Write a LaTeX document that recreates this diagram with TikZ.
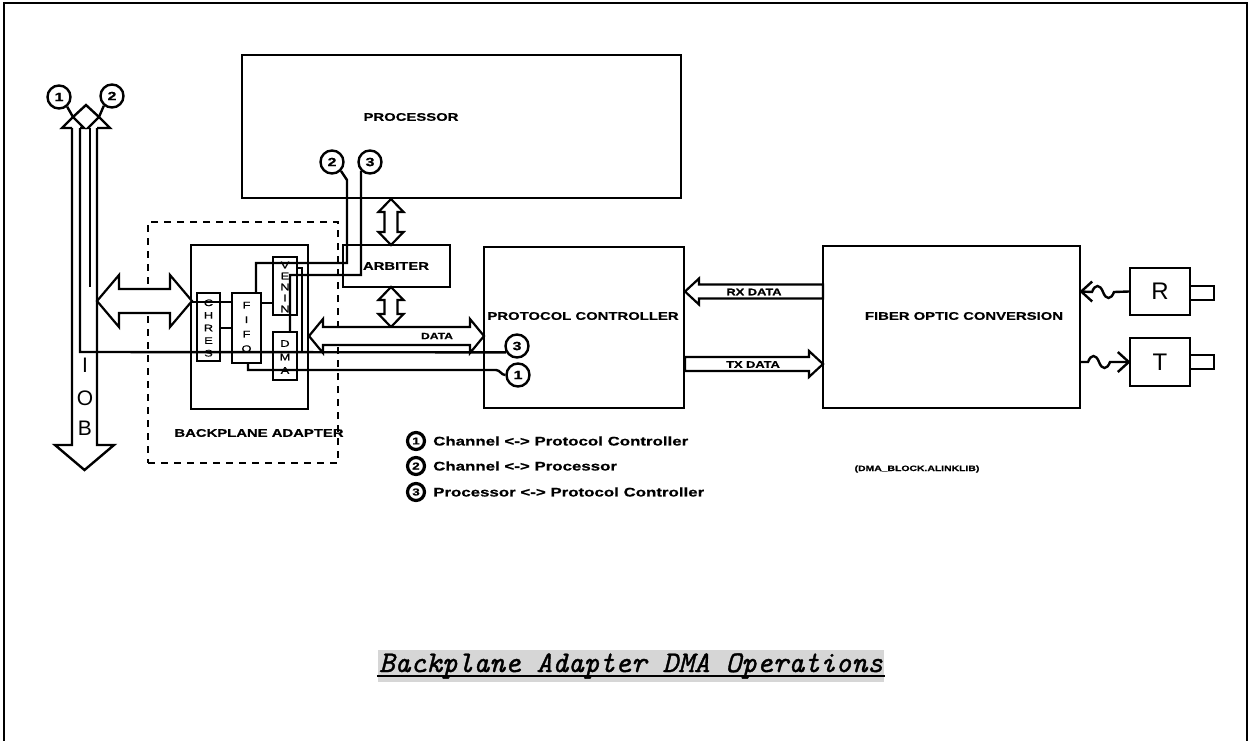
\documentclass[tikz,border=0pt]{standalone}
\usepackage{fontspec}
\newfontfamily\labfont[FakeStretch=1.35,FakeBold=0.6]{Liberation Sans}
\newfontfamily\plainsans{Liberation Sans}
\newfontfamily\titlefont[FakeBold=1.2]{lmmono10-italic.otf}
\begin{document}
\begin{tikzpicture}[x=1pt,y=-1pt,line width=2.4pt,line join=miter,
  box/.style={draw,line width=2.4pt,inner sep=0pt},
  dbox/.style={draw,line width=2.4pt,dash pattern=on 7pt off 6pt,inner sep=0pt},
  lbl/.style={inner sep=0pt,font=\labfont\bfseries\fontsize{11}{13}\selectfont},
  sml/.style={inner sep=0pt,font=\labfont\bfseries\fontsize{9.5}{11}\selectfont},
  leg/.style={inner sep=0pt,anchor=west,font=\labfont\bfseries\fontsize{12.5}{14}\selectfont},
  vlet/.style={inner sep=0pt,align=center,font=\labfont\fontsize{9.5}{#1}\selectfont},
  num/.style={circle,draw,line width=2.4pt,minimum size=23pt,inner sep=0pt,font=\labfont\bfseries\fontsize{12}{12}\selectfont},
  lnum/.style={circle,draw,line width=3.2pt,minimum size=17pt,inner sep=0pt,font=\labfont\bfseries\fontsize{10}{10}\selectfont},
  arr/.style={draw,fill=white,line width=2.2pt},
  wire/.style={line width=2.4pt},
  big/.style={inner sep=0pt,font=\plainsans\fontsize{24}{24}\selectfont}]
\useasboundingbox (0,0) rectangle (1251,740);
\draw[line width=1.6pt] (4,745)--(4,3)--(1247,3)--(1247,745);

% ---------------- main blocks
\node[box,minimum width=439pt,minimum height=143pt] (proc) at (461.5,126.5) {};
\node[lbl] (proct) at (411,117) {PROCESSOR};
\node[box,minimum width=107pt,minimum height=42pt] (arb) at (396.5,266) {};
\node[lbl] (arbt) at (396,266) {ARBITER};
\node[box,minimum width=200pt,minimum height=161pt] (pc) at (584,327.5) {};
\node[lbl,fill=white,inner xsep=1pt] (pct) at (583,316) {PROTOCOL CONTROLLER};
\node[box,minimum width=257pt,minimum height=162pt] (fo) at (951.5,327) {};
\node[lbl] (fot) at (964,316) {FIBER OPTIC CONVERSION};

% R and T
\node[box,minimum width=60pt,minimum height=47pt,big] (rbox) at (1160,291.5) {R};
\node[box,minimum width=24pt,minimum height=14pt] (rcon) at (1202,293) {};
\node[box,minimum width=60pt,minimum height=48pt,big] (tbox) at (1160,362) {T};
\node[box,minimum width=24pt,minimum height=14pt] (tcon) at (1202,362) {};
\coordinate (rin) at (fo.east |- rbox.west);
\coordinate (tout) at (fo.east |- tbox.west);
\draw[wire] (rbox.west) -- (1114,292) .. controls (1111,300) and (1106,300) .. (1103,292) .. controls (1100,284) and (1095,284) .. (1092,292) -- (rin);
\draw[wire] (rin) ++(11,-10) -- (rin) -- ++(11,10);
\draw[wire] (tout) -- (1088,362) .. controls (1091,354) and (1096,354) .. (1099,362) .. controls (1102,370) and (1107,370) .. (1110,362) -- (tbox.west);
\draw[wire] (tbox.west) ++(-11,-10) -- (tbox.west) -- ++(-11,10);

% RX / TX data arrows
\draw[arr] (685,291.5)--(699,278.5)--(699,284.5)--(823,284.5)--(823,298.5)--(699,298.5)--(699,304.5)--cycle;
\node[sml] (rxt) at (754,292) {RX DATA};
\draw[arr] (823,364)--(809,351)--(809,357)--(685,357)--(685,371)--(809,371)--(809,377)--cycle;
\node[sml] (txt) at (753,364.5) {TX DATA};

% ---------------- backplane adapter
\node[dbox,minimum width=190pt,minimum height=241pt] (bpd) at (243,342.5) {};
\node[lbl] (bpt) at (259,433) {BACKPLANE ADAPTER};
\node[box,minimum width=117pt,minimum height=164pt] (bpa) at (249.5,327) {};
\node[box,minimum width=23pt,minimum height=68pt] (chres) at (208.5,327) {};
\node[vlet=12.6] at (208.5,328) {C\\H\\R\\E\\S};
\node[box,minimum width=29pt,minimum height=70pt] (fifo) at (246.5,328) {};
\node[vlet=14.5] at (246.5,327) {F\\I\\F\\O};
\node[box,minimum width=24pt,minimum height=58pt] (venin) at (285,286) {};
\node[vlet=11] at (285,287) {V\\E\\N\\I\\N};
\node[box,minimum width=24pt,minimum height=48pt] (dma) at (285,356) {};
\node[vlet=13.5] at (285,357) {D\\M\\A};

% internal wires
\draw[wire] (192,302) -- (fifo.west |- 0,302);
\draw[wire] (chres.east |- 0,328) -- (fifo.west |- 0,328);
\draw[wire] (fifo.east |- 0,303) -- (venin.west |- 0,303);
\draw[wire] (venin.east |- 0,268) -- (302,268) -- (302,352);

% ---------------- IOB bus
\draw[wire] (72,128) -- (72,445) -- (55,445) -- (84.5,470) -- (114,445) -- (97,445) -- (97,128);
\draw[wire] (90,128) -- (90,287);
\node[num] (c1) at (59,97) {1};
\node[num] (c2) at (112,96) {2};
\draw[wire] (c1.-50) -- (73,117);
\draw[wire] (c2.-130) -- (99,117);
\draw[wire] (72,128)--(62,128)--(73,117)--(84,128)--(80,128);
\draw[wire] (90,128)--(88,128)--(99,117)--(110,128)--(97,128);
\draw[wire] (73,117)--(86,105)--(99,117);
\node[big,font=\plainsans\fontsize{21}{21}\selectfont] (iobI) at (85,365) {I};
\node[big,font=\plainsans\fontsize{21}{21}\selectfont] (iobO) at (85,398) {O};
\node[big,font=\plainsans\fontsize{21}{21}\selectfont] (iobB) at (85,428) {B};

% IOB <-> CHRES double arrow
\draw[arr] (97,301)--(119,275)--(119,289)--(170,289)--(170,275)--(192,301)--(170,327)--(170,313)--(119,313)--(119,327)--cycle;

% processor circles and wires
\node[num,fill=white] (p2) at (332,162) {2};
\node[num,fill=white] (p3) at (370,162) {3};
\node[num,fill=white] (pc3) at (517,346) {3};
\node[num,fill=white] (pc1) at (518,375) {1};
\draw[wire] (p2.-45) -- (347,180) -- (347,263) -- (256,263) -- (256,0 |- fifo.north);
\draw[wire] (p3.-135) -- (361,180) -- (361,275) -- (290,275) -- (290,0 |- dma.north);
\draw[wire] (80,128) -- (80,352) -- (pc3.210);
\draw[wire] (248,363) -- (248,370) -- (496,370) to[out=0,in=180] (pc1.west);

% arbiter double arrows
\draw[arr] (391,199)--(403.5,212)--(397.5,212)--(397.5,232)--(403.5,232)--(391,245)--(378.5,232)--(384.5,232)--(384.5,212)--(378.5,212)--cycle;
\draw[arr] (391,287)--(403.5,300)--(397.5,300)--(397.5,314)--(403.5,314)--(391,327)--(378.5,314)--(384.5,314)--(384.5,300)--(378.5,300)--cycle;

% DATA double arrow
\draw[arr] (309,336)--(323,319)--(323,327)--(470,327)--(470,319)--(484,336)--(470,353)--(470,345)--(323,345)--(323,353)--cycle;
\node[sml,font=\labfont\bfseries\fontsize{9}{10}\selectfont] (datat) at (437,336) {DATA};

% ---------------- legend
\node[lnum] (l1) at (416,441) {1};
\node[leg] (l1t) at (432,441) {Channel <-> Protocol Controller};
\node[lnum] (l2) at (416,466) {2};
\node[leg] (l2t) at (432,466) {Channel <-> Processor};
\node[lnum] (l3) at (416,492) {3};
\node[leg] (l3t) at (432,492) {Processor <-> Protocol Controller};
\node[sml,font=\labfont\bfseries\fontsize{7.7}{9}\selectfont] (lib) at (917,469) {(DMA\_BLOCK.ALINKLIB)};

% ---------------- title
\node[anchor=base,fill=black!16,inner xsep=1pt,inner ysep=3pt,font=\titlefont\fontsize{30}{30}\selectfont] (title) at (631,672) {Backplane Adapter DMA Operations};
\draw[line width=1.3pt] ([yshift=-4pt]title.base west) -- ([yshift=-4pt]title.base east);
\end{tikzpicture}
\end{document}
